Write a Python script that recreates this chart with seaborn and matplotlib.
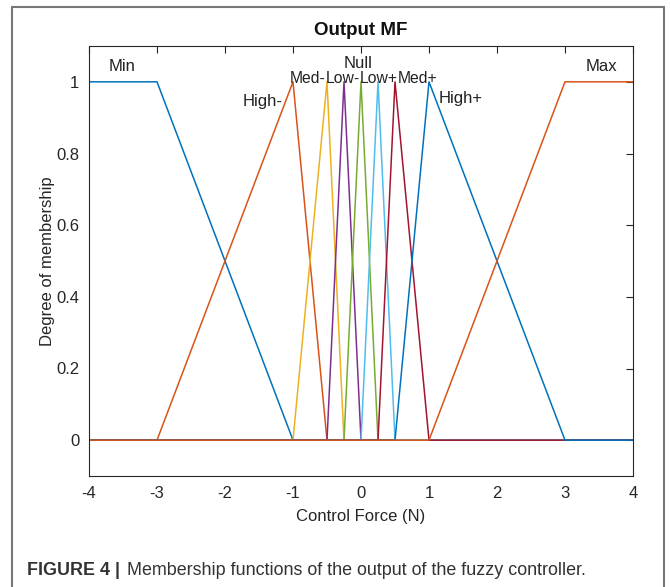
import matplotlib
matplotlib.use("Agg")
import matplotlib.pyplot as plt
from matplotlib.lines import Line2D
import numpy as np
import pandas as pd
import seaborn as sns

# membership functions of the output (trapezoid params a, b, c, d; triangles have b == c)
mf_names = ["Min", "High-", "Med-", "Low-", "Null", "Low+", "Med+", "High+", "Max"]
mf_a = [-4, -3, -1, -0.5, -0.25, 0, 0.25, 0.5, 1]
mf_b = [-4, -1, -0.5, -0.25, 0, 0.25, 0.5, 1, 3]
mf_c = [-3, -1, -0.5, -0.25, 0, 0.25, 0.5, 1, 4]
mf_d = [-1, -0.5, -0.25, 0, 0.25, 0.5, 1, 3, 4]
x_range = [-4, 4]

# MATLAB default colour order
mcolors = ["#0072BD", "#D95319", "#EDB120", "#7E2F8E", "#77AC30", "#4DBEEE", "#A2142F"]


def trapmf(x, a, b, c, d):
    up = (x - a) / (b - a) if b > a else 1.0
    down = (d - x) / (d - c) if d > c else 1.0
    return max(min(up, 1.0, down), 0.0)


rows = []
for i, name in enumerate(mf_names):
    a, b, c, d = mf_a[i], mf_b[i], mf_c[i], mf_d[i]
    xs = sorted(set([x_range[0], a, b, c, d, x_range[1]]))
    for x in xs:
        rows.append({"mf": name, "x": x, "y": trapmf(x, a, b, c, d)})
df = pd.DataFrame(rows)

palette = {n: mcolors[i % len(mcolors)] for i, n in enumerate(mf_names)}

sns.set_style("white")
plt.rcParams["font.family"] = ["Liberation Sans", "DejaVu Sans"]
plt.rcParams["axes.unicode_minus"] = False

W, H = 670, 587
fig = plt.figure(figsize=(W / 100, H / 100), dpi=100)
ax = fig.add_axes([89 / W, 111 / H, 544 / W, 430 / H])

sns.lineplot(data=df, x="x", y="y", hue="mf", palette=palette, units="mf",
             estimator=None, sort=False, linewidth=1.1, legend=False, ax=ax)

# MF labels (text baseline positions, as plotmf places them)
label_pos = {"Min": (-3.52, 1.031, 12), "Max": (3.53, 1.031, 12), "Null": (-0.04, 1.04, 12),
             "Med-": (-0.78, 0.997, 11.3), "Low-": (-0.27, 0.997, 11.3),
             "Low+": (0.26, 0.997, 11.3), "Med+": (0.825, 0.997, 11.3),
             "High-": (-1.45, 0.933, 12), "High+": (1.47, 0.941, 12)}
for n in mf_names:
    px, py, fs = label_pos[n]
    ax.text(px, py, n, ha="center", va="baseline", fontsize=fs, color="#222222")

ax.set_xlim(-4, 4)
ax.set_ylim(-0.1, 1.1)
ax.set_xticks(np.arange(-4, 5, 1))
ax.set_yticks([0, 0.2, 0.4, 0.6, 0.8, 1])
ax.set_yticklabels(["0", "0.2", "0.4", "0.6", "0.8", "1"])
ax.tick_params(direction="in", length=5, width=0.8, top=True, right=True,
               labelsize=12, colors="#262626", pad=7)
for s in ax.spines.values():
    s.set_color("#262626")
    s.set_linewidth(0.8)
ax.set_xlabel("Control Force (N)", fontsize=12, color="#262626", labelpad=6)
ax.set_ylabel("Degree of membership", fontsize=12, color="#262626", labelpad=1)
ax.set_title("Output MF", fontsize=13.5, fontweight="bold", color="#111111", pad=8)

# frame around figure (open at the bottom) + caption
edge = "#777777"
fig.add_artist(Line2D([12 / W, 12 / W], [0, 1 - 7 / H], color=edge, lw=1.5))
fig.add_artist(Line2D([12 / W, 664 / W], [1 - 7 / H, 1 - 7 / H], color=edge, lw=1.5))
fig.add_artist(Line2D([664 / W, 664 / W], [0, 1 - 7 / H], color=edge, lw=1.5))

cap_y = 1 - 575 / H
t1 = fig.text(27 / W, cap_y, "FIGURE 4 |", fontsize=12.9, fontweight="bold",
              color="#333333", va="baseline", ha="left")
fig.canvas.draw()
bb = t1.get_window_extent()
fig.text((bb.x1 + 7) / W, cap_y, "Membership functions of the output of the fuzzy controller.",
         fontsize=12.9, color="#333333", va="baseline", ha="left")

fig.savefig("out.png", dpi=100)
